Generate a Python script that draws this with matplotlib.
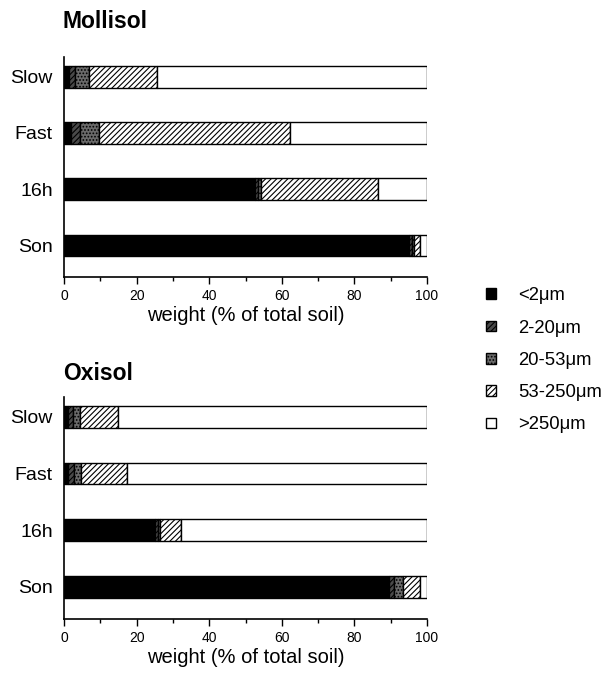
import matplotlib.pyplot as plt
from matplotlib.ticker import MultipleLocator

plt.rcParams['font.family'] = ['Liberation Sans', 'DejaVu Sans']
plt.rcParams['hatch.linewidth'] = 0.8

# treatments, bottom to top
treatments = ['Son', '16h', 'Fast', 'Slow']
fractions = ['<2\u03bcm', '2-20\u03bcm', '20-53\u03bcm', '53-250\u03bcm', '>250\u03bcm']

# weight (% of total soil) per size fraction, order: Son, 16h, Fast, Slow
moll_lt2 = [95.0, 52.5, 2.0, 1.5]
moll_2_20 = [0.8, 1.0, 2.5, 1.5]
moll_20_53 = [0.6, 0.9, 5.2, 3.9]
moll_53_250 = [1.8, 32.1, 52.6, 18.7]
moll_gt250 = [1.8, 13.5, 37.7, 74.4]

oxi_lt2 = [89.5, 25.0, 1.0, 1.0]
oxi_2_20 = [1.5, 0.8, 1.7, 1.5]
oxi_20_53 = [2.3, 0.6, 2.0, 1.9]
oxi_53_250 = [4.8, 5.8, 12.6, 10.4]
oxi_gt250 = [1.9, 67.8, 82.7, 85.2]

# fill styles for each fraction
styles = [
    dict(color='black', hatch=None),
    dict(color='#4a4a4a', hatch='//////'),
    dict(color='#6a6a6a', hatch='.....'),
    dict(color='white', hatch='//////'),
    dict(color='white', hatch=None),
]

fig = plt.figure(figsize=(6.10, 6.73), dpi=100)
ax1 = fig.add_axes([0.105, 0.588, 0.595, 0.327])
ax2 = fig.add_axes([0.105, 0.080, 0.595, 0.330])


def draw(ax, series):
    left = [0.0] * len(treatments)
    bars = []
    for vals, st in zip(series, styles):
        b = ax.barh(treatments, vals, left=left, height=0.38,
                    color=st['color'], hatch=st['hatch'],
                    edgecolor='black', linewidth=1.0)
        bars.append(b)
        left = [l + v for l, v in zip(left, vals)]
    ax.set_xlim(0, 100)
    ax.set_ylim(-0.57, 3.35)
    ax.spines['top'].set_visible(False)
    ax.spines['right'].set_visible(False)
    ax.spines['left'].set_linewidth(1.2)
    ax.spines['bottom'].set_linewidth(1.2)
    ax.spines['bottom'].set_bounds(0, 100)
    ax.xaxis.set_major_locator(MultipleLocator(20))
    ax.xaxis.set_minor_locator(MultipleLocator(10))
    ax.tick_params(axis='x', which='major', length=5, width=1, labelsize=10)
    ax.tick_params(axis='x', which='minor', length=3, width=1)
    ax.tick_params(axis='y', length=0, labelsize=14, pad=8)
    ax.set_xlabel('weight (% of total soil)', fontsize=14.5, labelpad=2)
    return bars


bars = draw(ax1, [moll_lt2, moll_2_20, moll_20_53, moll_53_250, moll_gt250])
draw(ax2, [oxi_lt2, oxi_2_20, oxi_20_53, oxi_53_250, oxi_gt250])

fig.text(0.103, 0.958, 'Mollisol', fontsize=16.5, fontweight='bold', va='baseline')
fig.text(0.103, 0.435, 'Oxisol', fontsize=16.5, fontweight='bold', va='baseline')

fig.legend([b[0] for b in bars], fractions, loc='upper left',
           bbox_to_anchor=(0.77, 0.598), frameon=False, fontsize=13.3,
           handlelength=0.5, handleheight=0.5, labelspacing=0.83,
           handletextpad=1.2)

fig.savefig('out.png', dpi=100)
